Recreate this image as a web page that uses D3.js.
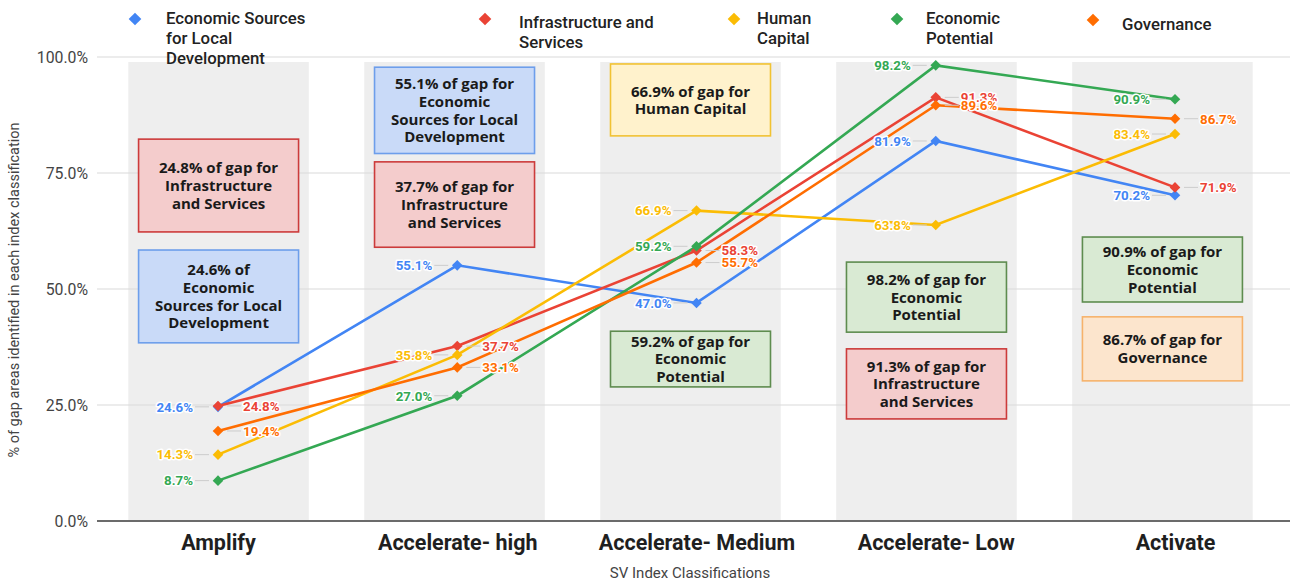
<!DOCTYPE html>
<html>
<head>
<meta charset="utf-8">
<script src="https://cdn.jsdelivr.net/npm/d3@7"></script>
<style>
  body { margin: 0; background: #fff; }
  svg { display: block; }
  .tick text { font-family: Roboto, sans-serif; }
</style>
</head>
<body>
<div id="chart"></div>
<script>
// categories and series
var categories = ["Amplify", "Accelerate- high", "Accelerate- Medium", "Accelerate- Low", "Activate"];
var seriesNames = ["Economic Sources for Local Development", "Infrastructure and Services", "Human Capital", "Economic Potential", "Governance"];
var economicSources = [24.6, 55.1, 47.0, 81.9, 70.2];
var infrastructure = [24.8, 37.7, 58.3, 91.3, 71.9];
var humanCapital = [14.3, 35.8, 66.9, 63.8, 83.4];
var economicPotential = [8.7, 27.0, 59.2, 98.2, 90.9];
var governance = [19.4, 33.1, 55.7, 89.6, 86.7];
var yTicks = [0, 25, 50, 75, 100];

// annotation boxes: category, series, text lines
var noteCategory = [0, 0, 1, 1, 2, 2, 3, 3, 4, 4];
var noteSeries = [1, 0, 0, 1, 2, 3, 3, 1, 3, 4];
var noteText = [
	["24.8% of gap for", "Infrastructure", "and Services"],
	["24.6% of", "Economic", "Sources for Local", "Development"],
	["55.1% of gap for", "Economic", "Sources for Local", "Development"],
	["37.7% of gap for", "Infrastructure", "and Services"],
	["66.9% of gap for", "Human Capital"],
	["59.2% of gap for", "Economic", "Potential"],
	["98.2% of gap for", "Economic", "Potential"],
	["91.3% of gap for", "Infrastructure", "and Services"],
	["90.9% of gap for", "Economic", "Potential"],
	["86.7% of gap for", "Governance"]
];

// ---- layout / style (not data) ----
var W = 1294, H = 584;
var plot = {left: 97, right: 1290, top: 57, bottom: 521};
var colors = ["#4285F4", "#EA4335", "#FBBC04", "#34A853", "#FF6D01"];
var boxFill = ["#C9DAF8", "#F4CCCC", "#FFF2CC", "#D9EAD3", "#FCE5CD"];
var boxStroke = ["#6D9EEB", "#CC3B3B", "#F1C232", "#5E8C4F", "#F6B26B"];
var labelSide = [-1, 1, -1, -1, 1];
// box vertical span in % units [top, bottom]
var noteSpan = [[82.3, 62.3], [58.4, 38.4], [97.8, 79.2], [77.4, 59.0], [98.5, 83.0],
	[40.9, 28.9], [55.8, 40.7], [37.1, 22.0], [61.2, 47.2], [44.0, 30.2]];
var legendPos = [
	{dx: 135, dy: 19, tx: 166, ty: 18, lines: ["Economic Sources", "for Local", "Development"]},
	{dx: 485, dy: 19, tx: 519, ty: 22, lines: ["Infrastructure and", "Services"]},
	{dx: 734, dy: 19, tx: 757, ty: 18, lines: ["Human", "Capital"]},
	{dx: 897, dy: 19, tx: 926, ty: 18, lines: ["Economic", "Potential"]},
	{dx: 1093, dy: 20, tx: 1122, ty: 24, lines: ["Governance"]}
];

var allSeries = [economicSources, infrastructure, humanCapital, economicPotential, governance];

var svg = d3.select("#chart").append("svg")
	.attr("width", W)
	.attr("height", H);

// scales
var y = d3.scaleLinear().domain([0, 100]).range([plot.bottom, plot.top]);
var xBand = d3.scaleBand().domain(categories).range([100, 1281]).paddingInner(0.235).paddingOuter(0.12);
var x = d3.scalePoint().domain(categories).range([218, 1175]);

// background bands
svg.append("g").selectAll("rect")
	.data(categories)
	.enter().append("rect")
	.attr("x", function(d) { return xBand(d); })
	.attr("y", 62)
	.attr("width", xBand.bandwidth())
	.attr("height", plot.bottom - 62)
	.attr("fill", "#EEEEEE");

// gridlines
svg.append("g").selectAll("line")
	.data(yTicks.filter(function(t) { return t > 0; }))
	.enter().append("line")
	.attr("x1", plot.left).attr("x2", plot.right)
	.attr("y1", function(d) { return y(d); })
	.attr("y2", function(d) { return y(d); })
	.attr("stroke", "#D9D9D9")
	.attr("stroke-width", 1.2);

// baseline
svg.append("line")
	.attr("x1", plot.left).attr("x2", plot.right)
	.attr("y1", y(0)).attr("y2", y(0))
	.attr("stroke", "#6B6B6B")
	.attr("stroke-width", 2);

// y axis
var yAxis = svg.append("g")
	.attr("transform", "translate(" + plot.left + ",0)")
	.call(d3.axisLeft(y).tickValues(yTicks).tickSize(0).tickPadding(9)
		.tickFormat(function(d) { return d3.format(".1f")(d) + "%"; }));
yAxis.select(".domain").remove();
yAxis.selectAll("text").attr("font-size", 15.8).attr("fill", "#444");

// x axis
var xAxis = svg.append("g")
	.attr("transform", "translate(0," + plot.bottom + ")")
	.call(d3.axisBottom(x).tickSize(0).tickPadding(14));
xAxis.select(".domain").remove();
xAxis.selectAll("text")
	.attr("font-size", 21.5)
	.attr("font-weight", 700)
	.attr("fill", "#1f1f1f");

// axis titles
svg.append("text")
	.attr("x", 690).attr("y", 578)
	.attr("text-anchor", "middle")
	.attr("font-family", "Roboto, sans-serif")
	.attr("font-size", 15)
	.attr("fill", "#444")
	.text("SV Index Classifications");

svg.append("text")
	.attr("transform", "translate(19,290) rotate(-90)")
	.attr("text-anchor", "middle")
	.attr("font-family", "Roboto, sans-serif")
	.attr("font-size", 14.5)
	.attr("fill", "#444")
	.text("% of gap areas identified in each index classification");

// annotation boxes
var notes = svg.append("g");
noteText.forEach(function(lines, i) {
	var c = categories[noteCategory[i]];
	var s = noteSeries[i];
	var cx = xBand(c) + xBand.bandwidth() / 2;
	var bw = 160;
	var top = y(noteSpan[i][0]), bottom = y(noteSpan[i][1]);
	var g = notes.append("g");
	g.append("rect")
		.attr("x", cx - bw / 2).attr("y", top)
		.attr("width", bw).attr("height", bottom - top)
		.attr("fill", boxFill[s])
		.attr("stroke", boxStroke[s])
		.attr("stroke-width", 1.6);
	var lh = 17.6;
	var mid = (top + bottom) / 2;
	lines.forEach(function(t, k) {
		g.append("text")
			.attr("x", cx)
			.attr("y", mid + (k - (lines.length - 1) / 2) * lh)
			.attr("dy", "0.36em")
			.attr("text-anchor", "middle")
			.attr("font-family", "'Open Sans', sans-serif")
			.attr("font-weight", 700)
			.attr("font-size", 15)
			.attr("fill", "#1a1a1a")
			.text(t);
	});
});

// lines and points
var line = d3.line()
	.x(function(d, i) { return x(categories[i]); })
	.y(function(d) { return y(d); });

var diamond = d3.symbol().type(d3.symbolSquare).size(56);

allSeries.forEach(function(vals, s) {
	svg.append("path")
		.datum(vals)
		.attr("fill", "none")
		.attr("stroke", colors[s])
		.attr("stroke-width", 2.6)
		.attr("d", line);
});

allSeries.forEach(function(vals, s) {
	svg.append("g").selectAll("path")
		.data(vals)
		.enter().append("path")
		.attr("d", diamond)
		.attr("transform", function(d, i) { return "translate(" + x(categories[i]) + "," + y(d) + ") rotate(45)"; })
		.attr("fill", colors[s]);
});

// data labels
var labels = svg.append("g");
allSeries.forEach(function(vals, s) {
	vals.forEach(function(v, i) {
		var px = x(categories[i]), py = y(v);
		var side = labelSide[s];
		var lx = px + side * 25;
		labels.append("line")
			.attr("x1", px + side * 9).attr("x2", lx - side * 2)
			.attr("y1", py).attr("y2", py)
			.attr("stroke", "#cccccc")
			.attr("stroke-width", 1);
		labels.append("text")
			.attr("x", lx)
			.attr("y", py)
			.attr("dy", "0.36em")
			.attr("text-anchor", side < 0 ? "end" : "start")
			.attr("font-family", "Roboto, sans-serif")
			.attr("font-weight", 700)
			.attr("font-size", 13.3)
			.attr("fill", colors[s])
			.attr("stroke", "#fff")
			.attr("stroke-width", 3)
			.attr("stroke-linejoin", "round")
			.attr("paint-order", "stroke")
			.text(d3.format(".1f")(v) + "%");
	});
});

// legend
var legend = svg.append("g");
legendPos.forEach(function(p, s) {
	legend.append("path")
		.attr("d", d3.symbol().type(d3.symbolSquare).size(80))
		.attr("transform", "translate(" + p.dx + "," + p.dy + ") rotate(45)")
		.attr("fill", colors[s]);
	p.lines.forEach(function(t, k) {
		legend.append("text")
			.attr("x", p.tx)
			.attr("y", p.ty + k * 20)
			.attr("dy", "0.36em")
			.attr("font-family", "Roboto, sans-serif")
			.attr("font-weight", 500)
			.attr("font-size", 16.8)
			.attr("fill", "#222")
			.text(t);
	});
});
</script>
</body>
</html>
